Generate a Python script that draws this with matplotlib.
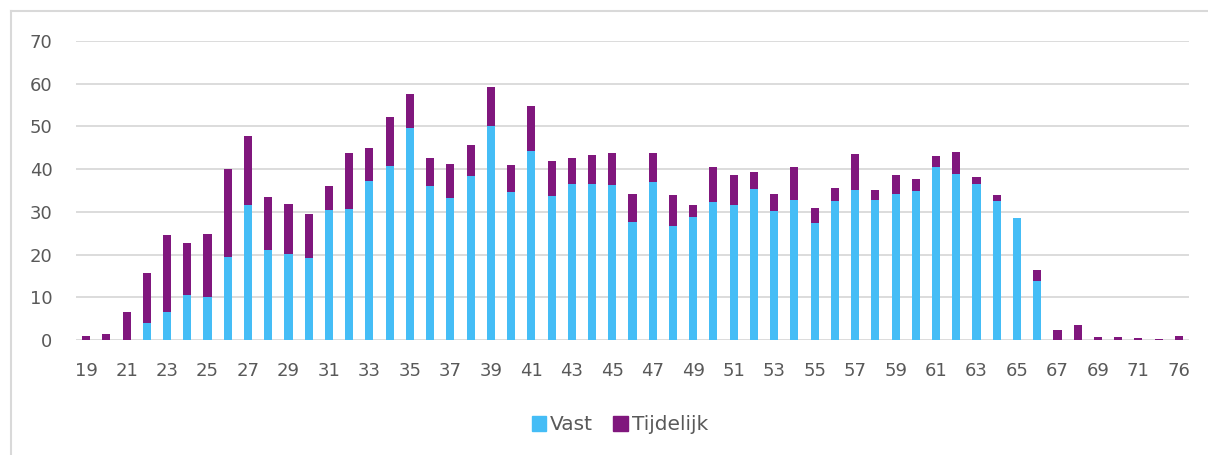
import matplotlib
matplotlib.use("Agg")
import matplotlib.pyplot as plt
from matplotlib.lines import Line2D
from matplotlib.patches import Patch
import numpy as np

ages = [str(a) for a in range(19, 72)] + ["72", "76"]
vast = [0, 0, 0, 4.0, 6.5, 10.5, 10.1, 19.4, 31.6, 21.1, 20.1, 19.3, 30.4, 30.7, 37.2, 40.7, 49.6,
        36.1, 33.2, 38.5, 50.1, 34.6, 44.3, 33.8, 36.5, 36.6, 36.2, 27.6, 37.1, 26.7, 28.8, 32.4,
        31.5, 35.4, 30.2, 32.8, 27.3, 32.5, 35.1, 32.7, 34.2, 34.9, 40.5, 38.8, 36.5, 32.5, 28.5,
        13.7, 0, 0, 0, 0, 0, 0, 0]
tijdelijk = [0.9, 1.4, 6.5, 11.6, 18.0, 12.1, 14.8, 20.6, 16.2, 12.4, 11.7, 10.1, 5.7, 13.0, 7.8,
             11.4, 8.0, 6.5, 8.0, 7.1, 9.2, 6.4, 10.4, 8.0, 6.0, 6.7, 7.6, 6.5, 6.6, 7.3, 2.8, 8.0,
             7.1, 3.9, 4.0, 7.7, 3.7, 3.0, 8.4, 2.5, 4.4, 2.7, 2.6, 5.1, 1.7, 1.5, 0.1, 2.8, 2.3,
             3.4, 0.6, 0.7, 0.4, 0.2, 0.85]

c_vast = "#45BDF6"
c_tijd = "#80177D"
grid_c = "#D9D9D9"
txt_c = "#595959"

plt.rcParams['font.family'] = ['DejaVu Sans']

fig = plt.figure(figsize=(12.08, 4.55), dpi=100)
ax = fig.add_axes([76 / 1208, 1 - 340 / 455, (1189 - 76) / 1208, (340 - 41) / 455])

x = np.arange(len(ages))
ax.bar(x, vast, width=0.4, color=c_vast, zorder=3, label="Vast")
ax.bar(x, tijdelijk, width=0.4, bottom=vast, color=c_tijd, zorder=3, label="Tijdelijk")

ax.set_xlim(-0.5, len(ages) - 0.5)
ax.set_ylim(0, 70)
ax.set_yticks(range(0, 71, 10))
ax.yaxis.grid(True, color=grid_c, linewidth=1.3, zorder=0)
ax.set_xticks(x[::2])
ax.set_xticklabels(ages[::2])
for s in ax.spines.values():
    s.set_visible(False)
ax.tick_params(axis='both', length=0, labelsize=13, colors=txt_c)
ax.tick_params(axis='y', pad=17)
ax.tick_params(axis='x', pad=16)

handles = [Patch(color=c_vast, label="Vast"), Patch(color=c_tijd, label="Tijdelijk")]
leg = fig.legend(handles=handles, loc="center", bbox_to_anchor=(620 / 1208, 1 - 425 / 455),
                 ncol=2, frameon=False, fontsize=14.5, handlelength=0.7, handleheight=0.7,
                 handletextpad=0.2, columnspacing=1.0)
for t in leg.get_texts():
    t.set_color(txt_c)

fig.add_artist(Line2D([11 / 1208, 11 / 1208], [0, 1 - 11 / 455], color=grid_c, linewidth=1.5,
                      transform=fig.transFigure))
fig.add_artist(Line2D([11 / 1208, 1], [1 - 11 / 455, 1 - 11 / 455], color=grid_c, linewidth=1.5,
                      transform=fig.transFigure))

fig.savefig("out.png", dpi=100)
